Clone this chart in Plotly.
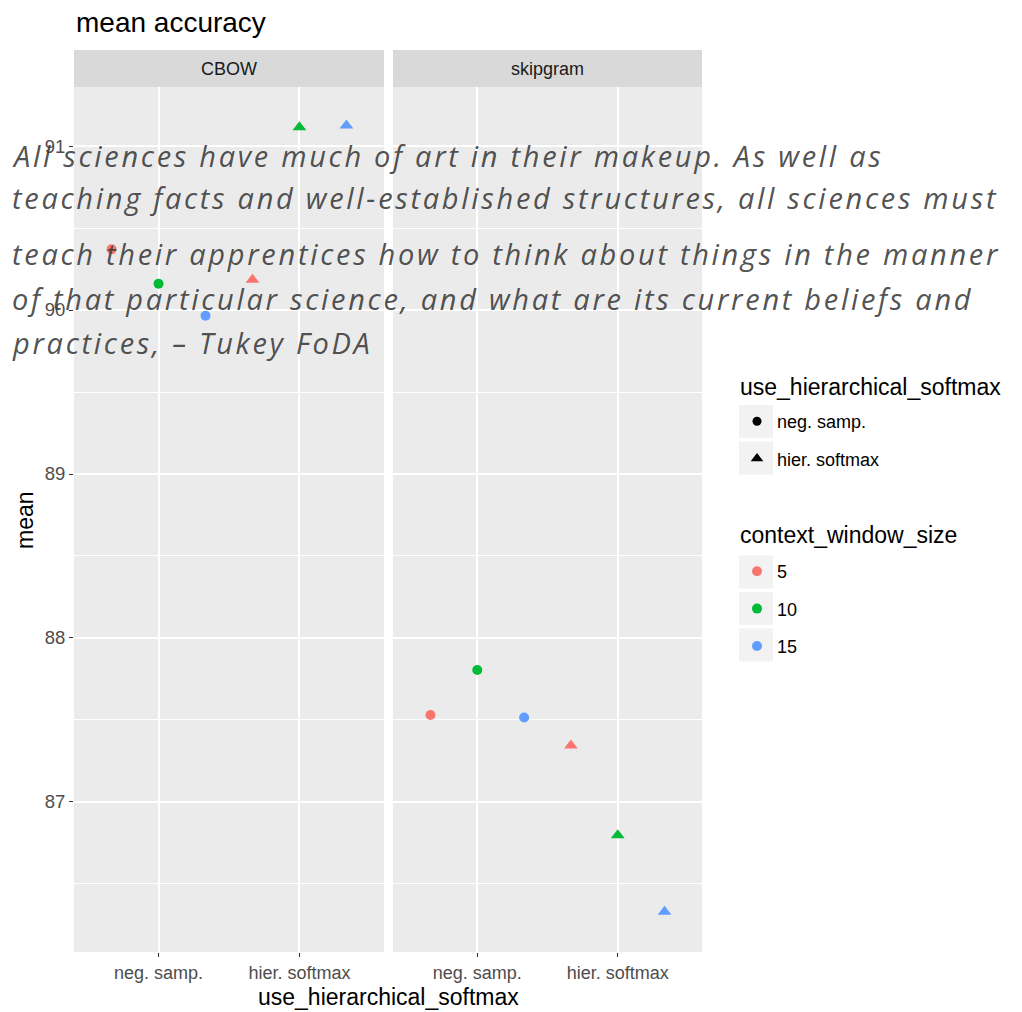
import plotly.graph_objects as go

# ---- data ----
models = ["CBOW", "skipgram"]
softmax_levels = ["neg. samp.", "hier. softmax"]
window_sizes = ["5", "10", "15"]
mean_cbow_neg = [90.37, 90.16, 89.965]
mean_cbow_hier = [90.185, 91.115, 91.125]
mean_skip_neg = [87.53, 87.805, 87.515]
mean_skip_hier = [87.345, 86.797, 86.33]
y_ticks = [87, 88, 89, 90, 91]

colors = ["#F8766D", "#00BA38", "#619CFF"]
symbols = ["circle", "triangle-up"]
dodge = [-1/3, 0, 1/3]

values = {
    ("CBOW", 0): mean_cbow_neg,
    ("CBOW", 1): mean_cbow_hier,
    ("skipgram", 0): mean_skip_neg,
    ("skipgram", 1): mean_skip_hier,
}

fig = go.Figure()
for mi, model in enumerate(models):
    xa = "x" if mi == 0 else "x2"
    ya = "y" if mi == 0 else "y2"
    for si in range(2):
        vals = values[(model, si)]
        for wi, w in enumerate(window_sizes):
            fig.add_trace(go.Scatter(
                x=[si + 1 + dodge[wi]], y=[vals[wi]],
                xaxis=xa, yaxis=ya, mode="markers", showlegend=False,
                marker=dict(color=colors[wi], symbol=symbols[si],
                            size=10 if si == 0 else 12, line=dict(width=0)),
                hoverinfo="skip"))

# legend traces
for si, lvl in enumerate(softmax_levels):
    fig.add_trace(go.Scatter(x=[None], y=[None], mode="markers", name=lvl,
                             legend="legend", legendgroup="s" + str(si),
                             marker=dict(color="black", symbol=symbols[si], size=9 if si == 0 else 11)))
for wi, w in enumerate(window_sizes):
    fig.add_trace(go.Scatter(x=[None], y=[None], mode="markers", name=w,
                             legend="legend2", legendgroup="w" + str(wi),
                             marker=dict(color=colors[wi], symbol="circle", size=10)))

# page has an 8px body margin: figure origin sits at page (8, 8)
OFF = 8
W, H = 1022 - OFF, 1012 - OFF
L, R, T, B = 74, 702, 50, 952          # page coordinates of the plot area
pw, ph = R - L, B - T
def px(xp): return (xp - L) / pw
def py(yp): return (B - yp) / ph

panel_top = py(87)
x1dom = [0, px(384)]
x2dom = [px(393), 1]

FONT = "Liberation Sans"
axis_common = dict(range=[0.4, 2.6], tickvals=[1, 2], ticktext=softmax_levels,
                   showgrid=True, gridcolor="white", gridwidth=1.6, zeroline=False,
                   ticks="outside", ticklen=4, tickwidth=1.3, tickcolor="#333333",
                   tickfont=dict(family=FONT, size=18, color="#4D4D4D"),
                   showline=False)
yrange = [86.085, 91.36]
yaxis_common = dict(range=yrange, tickvals=y_ticks, showgrid=True, gridcolor="white",
                    gridwidth=1.6, zeroline=False, ticks="outside", ticklen=4, tickwidth=1.3,
                    tickcolor="#333333", domain=[0, panel_top],
                    minor=dict(tickvals=[86.5, 87.5, 88.5, 89.5, 90.5], showgrid=True,
                               gridcolor="white", gridwidth=0.7, ticks=""))

leg_common = dict(xanchor="left", yanchor="top", bgcolor="rgba(0,0,0,0)",
                  font=dict(family=FONT, size=18, color="black"),
                  traceorder="grouped", tracegroupgap=11, itemsizing="trace")

fig.update_layout(
    width=W, height=H,
    margin=dict(l=L - OFF, r=(W + OFF) - R, t=T - OFF, b=(H + OFF) - B, autoexpand=False),
    paper_bgcolor="white", plot_bgcolor="#EBEBEB",
    font=dict(family=FONT),
    xaxis=dict(domain=x1dom, anchor="y", **axis_common),
    xaxis2=dict(domain=x2dom, anchor="y2", **axis_common),
    yaxis=dict(anchor="x", tickfont=dict(family=FONT, size=18.5, color="#4D4D4D"), **yaxis_common),
    yaxis2=dict(anchor="x2", matches="y", showticklabels=False, **yaxis_common),
    legend=dict(x=px(737), y=py(403), **leg_common),
    legend2=dict(x=px(737), y=py(553), **leg_common),
)
fig.update_yaxes(ticks="", selector=dict(anchor="x2"))

shapes = []
annotations = []
# facet strips
for dom, label in [(x1dom, models[0]), (x2dom, models[1])]:
    shapes.append(dict(type="rect", xref="paper", yref="paper", x0=dom[0], x1=dom[1],
                       y0=panel_top, y1=1.0, fillcolor="#D9D9D9", line=dict(width=0), layer="below"))
    annotations.append(dict(text=label, xref="paper", yref="paper", x=(dom[0] + dom[1]) / 2,
                            y=(panel_top + 1) / 2, showarrow=False, xanchor="center", yanchor="middle",
                            font=dict(family=FONT, size=18, color="#1A1A1A")))
# legend key backgrounds
for yc in [421.5, 458, 572, 608.5, 645]:
    shapes.append(dict(type="rect", xref="paper", yref="paper", x0=px(739), x1=px(773),
                       y0=py(yc + 16.5), y1=py(yc - 16.5), fillcolor="#F2F2F2", line=dict(width=0)))

# legend titles
for txt, yy in [("use_hierarchical_softmax", 387), ("context_window_size", 535)]:
    annotations.append(dict(text=txt, xref="paper", yref="paper", x=px(738), y=py(yy),
                            xanchor="left", yanchor="middle", showarrow=False,
                            font=dict(family=FONT, size=23, color="black")))

annotations.append(dict(text="mean accuracy", xref="paper", yref="paper", x=0, y=py(22.5),
                        xanchor="left", yanchor="middle", showarrow=False,
                        font=dict(family=FONT, size=28, color="black")))
annotations.append(dict(text="use_hierarchical_softmax", xref="paper", yref="paper", x=0.5, y=py(997),
                        xanchor="center", yanchor="middle", showarrow=False,
                        font=dict(family=FONT, size=23, color="black")))
annotations.append(dict(text="mean", xref="paper", yref="paper", x=px(25), y=py(520),
                        xanchor="center", yanchor="middle", showarrow=False, textangle=-90,
                        font=dict(family=FONT, size=23, color="black")))

quote_lines = [
    "All sciences have much of art in their makeup. As well as",
    "teaching facts and well-established structures, all sciences must",
    "teach their apprentices how to think about things in the manner",
    "of that particular science, and what are its current beliefs and",
    "practices, \u2013 Tukey FoDA",
]
quote_y = [155, 197, 253, 298, 342]
for line, yy in zip(quote_lines, quote_y):
    annotations.append(dict(text='<span style="letter-spacing:2.7px">' + line + '</span>',
                            xref="paper", yref="paper", x=px(10), y=py(yy),
                            xanchor="left", yanchor="middle", showarrow=False,
                            font=dict(family="Open Sans", size=29, color="rgba(60,60,60,0.9)", style="italic")))

fig.update_layout(shapes=shapes, annotations=annotations)
fig.write_html("out.html")
